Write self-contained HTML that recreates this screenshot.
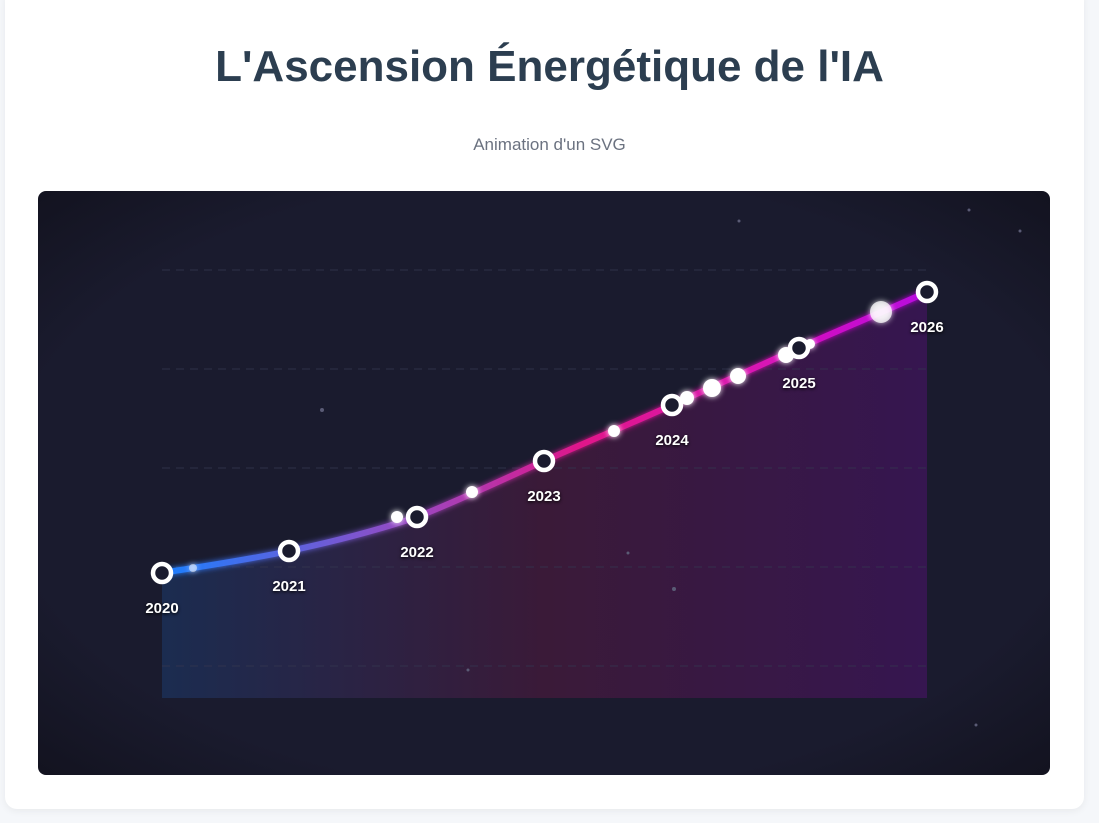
<!DOCTYPE html>
<html><head><meta charset="utf-8"><style>
body{margin:0;background:#f5f7fa;width:1099px;height:823px;overflow:hidden;font-family:"Liberation Sans",sans-serif}
.card{position:absolute;left:5px;top:-12px;width:1079px;height:821px;background:#fff;border-radius:12px;box-shadow:0 2px 8px rgba(0,0,0,.06)}
h1{position:absolute;left:0;width:1099px;top:42px;margin:0;text-align:center;font-size:44px;font-weight:bold;color:#2c3e50}
.sub{position:absolute;left:0;width:1099px;top:135px;text-align:center;font-size:17px;color:#6b7280}
svg{position:absolute;left:0;top:0}
</style></head><body>
<div class="card"></div>
<h1>L'Ascension Énergétique de l'IA</h1>
<div class="sub">Animation d'un SVG</div>
<svg width="1099" height="823">
<defs>
<linearGradient id="ln" x1="162" y1="0" x2="927" y2="0" gradientUnits="userSpaceOnUse">
<stop offset="0" stop-color="#1a7fff"/><stop offset="0.33" stop-color="#9b48c0"/><stop offset="0.55" stop-color="#e0168a"/><stop offset="0.8" stop-color="#d812b8"/><stop offset="1" stop-color="#b80ee0"/></linearGradient>
<linearGradient id="ar" x1="162" y1="0" x2="927" y2="0" gradientUnits="userSpaceOnUse">
<stop offset="0" stop-color="#1b2c50"/><stop offset="0.5" stop-color="#3a1a38"/><stop offset="1" stop-color="#361650"/></linearGradient>
<radialGradient id="vg" cx="0.5" cy="0.5" r="0.7"><stop offset="0.75" stop-color="#1a1b2e"/><stop offset="1" stop-color="#131320"/></radialGradient>
<filter id="gl"><feGaussianBlur stdDeviation="3" result="b"/><feMerge><feMergeNode in="b"/><feMergeNode in="SourceGraphic"/></feMerge></filter>
</defs>
<rect x="38" y="191" width="1012" height="584" rx="8" fill="url(#vg)"/>
<path d="M162,573 C204,566 247,560 289,551 C332,542 375,531 417,517 C460,500 502,480 544,461 C587,442 630,424 672,405 C715,386 757,367 799,348 C842,329 885,311 927,292 L927,698 L162,698 Z" fill="url(#ar)"/>
<g stroke="#34364f" stroke-dasharray="8 6" stroke-width="1" opacity=".8">
<line x1="162" y1="270" x2="927" y2="270"/><line x1="162" y1="369" x2="927" y2="369"/><line x1="162" y1="468" x2="927" y2="468"/><line x1="162" y1="567" x2="927" y2="567"/><line x1="162" y1="666" x2="927" y2="666"/></g>
<g fill="#5a5b75"><circle cx="322" cy="410" r="2"/><circle cx="739" cy="221" r="1.5"/><circle cx="969" cy="210" r="1.5"/><circle cx="1020" cy="231" r="1.5"/><circle cx="674" cy="589" r="2"/><circle cx="628" cy="553" r="1.5"/><circle cx="976" cy="725" r="1.5"/><circle cx="468" cy="670" r="1.5"/></g>
<path d="M162,573 C204,566 247,560 289,551 C332,542 375,531 417,517 C460,500 502,480 544,461 C587,442 630,424 672,405 C715,386 757,367 799,348 C842,329 885,311 927,292" fill="none" stroke="url(#ln)" stroke-width="6" filter="url(#gl)"/>
<g fill="#fff" filter="url(#gl)"><circle cx="193" cy="568" r="4" opacity=".5"/><circle cx="397" cy="517" r="6"/><circle cx="472" cy="492" r="6"/><circle cx="614" cy="431" r="6"/><circle cx="687" cy="398" r="7"/><circle cx="712" cy="388" r="9"/><circle cx="738" cy="376" r="8"/><circle cx="786" cy="355" r="8"/><circle cx="810" cy="344" r="5"/><circle cx="881" cy="312" r="11" opacity=".75"/></g>
<g fill="#1a1b2e" stroke="#fff" stroke-width="4.5">
<circle cx="162" cy="573" r="9"/><circle cx="289" cy="551" r="9"/><circle cx="417" cy="517" r="9"/><circle cx="544" cy="461" r="9"/><circle cx="672" cy="405" r="9"/><circle cx="799" cy="348" r="9"/><circle cx="927" cy="292" r="9"/></g>
<g fill="#fff" font-family="Liberation Sans,sans-serif" font-weight="bold" font-size="15" text-anchor="middle" style="text-shadow:0 1px 3px #000">
<text x="162" y="613">2020</text><text x="289" y="591">2021</text><text x="417" y="557">2022</text><text x="544" y="501">2023</text><text x="672" y="445">2024</text><text x="799" y="388">2025</text><text x="927" y="332">2026</text></g>
</svg>
</body></html>
